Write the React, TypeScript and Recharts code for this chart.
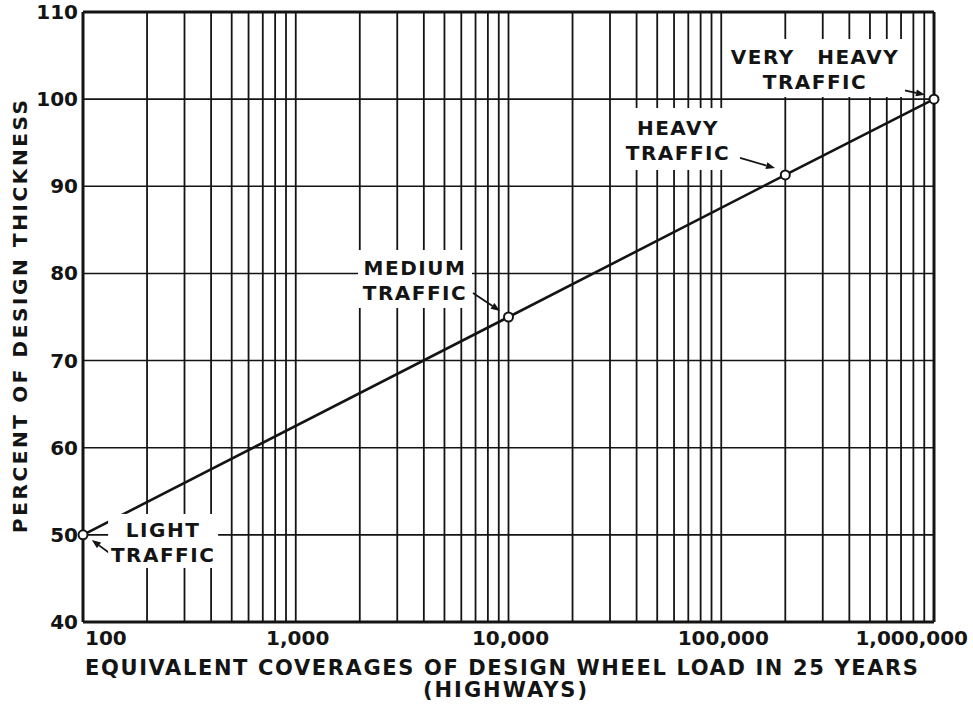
import React from "react";
import { LineChart, Line, XAxis, YAxis, ReferenceLine, ReferenceDot } from "recharts";

// coverages vs percent of design thickness
const coverages = [100, 10000, 200000, 1000000];
const thickness = [50, 75, 91.3, 100];

const xTicks = [100, 1000, 10000, 100000, 1000000];
const xTickLabels = ["100", "1,000", "10,000", "100,000", "1,000,000"];
const yTicks = [40, 50, 60, 70, 80, 90, 100, 110];
const decades = [100, 1000, 10000, 100000];
const multipliers = [2, 3, 4, 5, 6, 7, 8, 9];

const boxLines = [
  ["LIGHT", "TRAFFIC"],
  ["MEDIUM", "TRAFFIC"],
  ["HEAVY", "TRAFFIC"],
  ["VERY  HEAVY", "TRAFFIC"],
];
// label box centres, in data units
const boxX = [238, 3635, 62600, 275800];
const boxY = [49.3, 79.36, 95.43, 103.57];
const boxW = [110, 114, 124, 180];
const boxH = [54, 58, 62, 58];

// arrows (from, to), in data units
const arrowFrom = [
  [137, 47.7],
  [6810, 77.75],
  [122500, 93.25],
  [557000, 101.6],
];
const arrowTo = [
  [110, 49.4],
  [9120, 75.7],
  [179000, 92.1],
  [907000, 100.5],
];

const data = coverages.map((c, i) => ({ cov: c, pct: thickness[i] }));
const minorX = decades.flatMap((d) => multipliers.map((m) => d * m)).concat([1000, 10000, 100000]);

const INK = "#141414";
const FONT = "'DejaVu Sans', sans-serif";

const XTick = (props: any) => {
  const { x, payload } = props;
  const i = xTicks.indexOf(payload.value);
  let anchor = "middle";
  let dx = 2;
  if (i === 0) {
    anchor = "start";
    dx = 2;
  } else if (i === xTicks.length - 1) {
    anchor = "end";
    dx = 34;
  }
  return (
    <text x={x + dx} y={622 + 23} textAnchor={anchor} fontFamily={FONT} fontWeight="bold" fontSize={20} fill={INK}>
      {xTickLabels[i]}
    </text>
  );
};

const YTick = (props: any) => {
  const { y, payload } = props;
  return (
    <text x={78} y={y + 7} textAnchor="end" fontFamily={FONT} fontWeight="bold" fontSize={20} fill={INK}>
      {payload.value}
    </text>
  );
};

const makeBox = (i: number) => (props: any) => {
  const { cx, cy } = props;
  const w = boxW[i];
  const h = boxH[i];
  return (
    <g>
      <rect x={cx - w / 2} y={cy - h / 2} width={w} height={h} fill="#fff" />
      <text x={cx} y={cy - 4} textAnchor="middle" fontFamily={FONT} fontWeight="bold" fontSize={20} letterSpacing={1.5} wordSpacing={14} fill={INK}>
        {boxLines[i][0]}
      </text>
      <text x={cx} y={cy + 21} textAnchor="middle" fontFamily={FONT} fontWeight="bold" fontSize={20} letterSpacing={1.5} fill={INK}>
        {boxLines[i][1]}
      </text>
    </g>
  );
};

const Arrow = (props: any) => {
  const { x1, y1, x2, y2 } = props;
  const ang = Math.atan2(y2 - y1, x2 - x1);
  const len = 9;
  const hw = 3.5;
  const bx = x2 - len * Math.cos(ang);
  const by = y2 - len * Math.sin(ang);
  const px = -Math.sin(ang) * hw;
  const py = Math.cos(ang) * hw;
  return (
    <g>
      <line x1={x1} y1={y1} x2={bx} y2={by} stroke={INK} strokeWidth={1.8} />
      <polygon points={`${x2},${y2} ${bx + px},${by + py} ${bx - px},${by - py}`} fill={INK} />
    </g>
  );
};

const XLabel = (props: any) => {
  const vb = props.viewBox || { x: 83, y: 622, width: 851 };
  return (
    <g>
      <text x={vb.x + 2} y={vb.y + 53} textLength={833} lengthAdjust="spacing" fontFamily={FONT} fontWeight="bold" fontSize={21} fill={INK}>
        EQUIVALENT COVERAGES OF DESIGN WHEEL LOAD IN 25 YEARS
      </text>
      <text x={506} y={vb.y + 75} textAnchor="middle" letterSpacing={2} fontFamily={FONT} fontWeight="bold" fontSize={21} fill={INK}>
        (HIGHWAYS)
      </text>
    </g>
  );
};

const YLabel = () => (
  <text
    x={27}
    y={533}
    transform="rotate(-90 27 533)"
    textLength={433}
    lengthAdjust="spacing"
    fontFamily={FONT}
    fontWeight="bold"
    fontSize={20}
    fill={INK}
  >
    PERCENT OF DESIGN THICKNESS
  </text>
);

export default function App() {
  return (
    <div style={{ position: "absolute", left: 0, top: 0, width: 973, height: 705, background: "#fff" }}>
      <LineChart width={973} height={705} data={data} margin={{ top: 12, right: 39, left: 0, bottom: 0 }}>
        <XAxis
          dataKey="cov"
          type="number"
          scale="log"
          domain={[100, 1000000]}
          ticks={xTicks}
          height={83}
          tickLine={false}
          axisLine={false}
          tick={<XTick />}
          interval={0}
          label={{ content: <XLabel /> }}
        />
        <YAxis
          type="number"
          domain={[40, 110]}
          ticks={yTicks}
          width={83}
          tickLine={false}
          axisLine={false}
          tick={<YTick />}
          interval={0}
          label={{ content: <YLabel /> }}
        />
        {minorX.map((v) => (
          <ReferenceLine key={"vx" + v} x={v} stroke={INK} strokeWidth={1.8} />
        ))}
        {yTicks.slice(1, -1).map((v) => (
          <ReferenceLine key={"hy" + v} y={v} stroke={INK} strokeWidth={1.6} />
        ))}
        {boxLines.map((_, i) => (
          <ReferenceDot key={"box" + i} x={boxX[i]} y={boxY[i]} r={1} shape={makeBox(i)} />
        ))}
        <ReferenceLine x={100} stroke={INK} strokeWidth={3} />
        <ReferenceLine x={1000000} stroke={INK} strokeWidth={3} />
        <ReferenceLine y={40} stroke={INK} strokeWidth={3} />
        <ReferenceLine y={110} stroke={INK} strokeWidth={3} />
        {arrowFrom.map((f, i) => (
          <ReferenceLine
            key={"ar" + i}
            segment={[
              { x: f[0], y: f[1] },
              { x: arrowTo[i][0], y: arrowTo[i][1] },
            ]}
            shape={Arrow}
          />
        ))}
        <Line
          type="linear"
          dataKey="pct"
          stroke={INK}
          strokeWidth={2.6}
          dot={{ r: 4.5, fill: "#fff", stroke: INK, strokeWidth: 2, clipDot: false }}
          isAnimationActive={false}
        />
      </LineChart>
    </div>
  );
}
